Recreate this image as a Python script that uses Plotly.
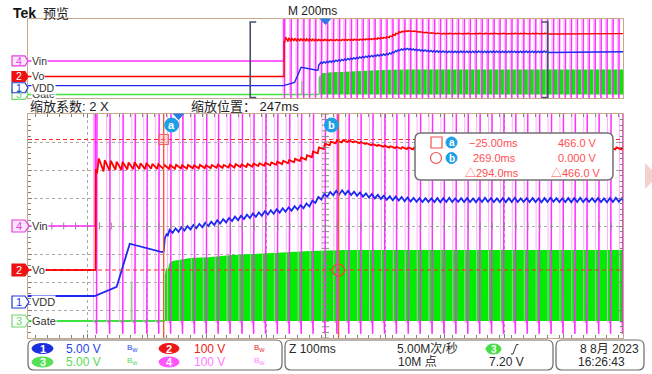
import plotly.graph_objects as go

W, H = 652, 374

# ---------------- acquisition settings ----------------
record_ms = [-1000.0, 1000.0]      # M 200ms/div over 10 divisions, trigger at 0 ms
record_ms_per_div = 200.0
zoom_factor = 2
zoom_pos_ms = 247.0
zoom_ms_per_div = 100.0
sample_rate = "5.00M次/秒"
record_points = "10M 点"
trigger_level = "7.20 V"
date_text = "8 8月 2023"
time_text = "16:26:43"

# ---------------- channel 2 : Vo (V) ----------------
vo_samples = [
    (-1000, 0), (-139.5, 0), (-139, 360), (-137, 345),
    (-134, 398), (-126, 352), (-124, 392), (-116, 356), (-114, 390), (-106, 358),
    (-104, 387), (-96, 357), (-94, 386), (-86, 359), (-84, 384), (-76, 360),
    (-74, 385), (-66, 361), (-64, 381), (-56, 360), (-54, 382), (-46, 362),
    (-44, 379), (-36, 361), (-34, 378), (-26, 362), (-24, 376), (-16, 361),
    (-14, 375), (-6, 362), (-4, 376), (4, 363), (6, 374), (14, 362),
    (16, 375), (24, 363), (26, 374), (34, 363), (36, 375), (44, 364),
    (46, 374), (54, 364), (56, 375), (64, 365), (66, 376), (74, 365),
    (76, 375), (84, 366), (86, 377), (94, 366), (96, 378), (104, 368),
    (106, 377), (114, 368), (116, 379), (124, 369), (126, 380), (134, 371),
    (136, 381), (144, 372), (146, 383), (154, 374), (156, 384), (164, 376),
    (166, 387), (174, 378), (176, 390), (184, 381), (186, 393), (194, 385),
    (196, 397), (204, 389), (206, 402), (214, 394), (216, 410), (224, 403),
    (226, 423), (234, 417), (236, 438), (244, 432), (246, 451), (254, 445),
    (256, 458), (264, 452), (266, 462), (274, 456), (276, 463), (284, 457),
    (286, 462), (294, 456), (296, 460), (304, 453), (306, 457), (314, 450),
    (316, 453), (324, 446), (326, 450), (334, 443), (336, 447), (344, 440),
    (346, 444), (354, 437), (356, 442), (364, 435), (366, 440), (374, 433),
    (376, 439), (384, 432), (386, 438), (394, 431), (396, 437), (404, 431),
    (406, 438), (414, 430), (416, 437), (424, 431), (426, 436), (434, 430),
    (436, 437), (444, 431), (446, 438), (454, 431), (456, 437), (464, 430),
    (466, 437), (474, 431), (476, 438), (484, 431), (486, 437), (494, 430),
    (496, 436), (504, 430), (506, 437), (514, 431), (516, 438), (524, 431),
    (526, 437), (534, 430), (536, 437), (544, 431), (546, 436), (554, 430),
    (556, 437), (564, 431), (566, 438), (574, 431), (576, 437), (584, 430),
    (586, 437), (594, 431), (596, 438), (604, 431), (606, 437), (614, 430),
    (616, 436), (624, 430), (626, 437), (634, 431), (636, 438), (644, 431),
    (646, 437), (654, 430), (656, 437), (664, 431), (666, 438), (674, 431),
    (676, 437), (684, 430), (686, 436), (694, 430), (696, 437), (704, 431),
    (706, 438), (714, 431), (716, 437), (724, 430), (726, 437), (734, 431),
    (736, 438), (744, 431), (746, 437), (754, 430), (1000, 434),
]

# ---------------- channel 1 : VDD (V) ----------------
vdd_samples = [
    (-1000, 1.07), (-141, 1.07), (-104, 2.7), (-82, 10.4), (-28, 8.9), (-25, 9.0),
    (-23, 11.4), (-20, 12.1), (-18, 11.9), (-15, 12.9), (-10, 12.35), (-5, 13.15),
    (0, 12.55), (5, 13.35), (10, 12.75), (15, 13.55), (20, 12.95), (25, 13.75),
    (30, 13.15), (35, 13.95), (40, 13.35), (45, 14.15), (50, 13.55), (55, 14.35),
    (60, 13.75), (65, 14.6), (70, 14.0), (75, 14.8), (80, 14.2), (85, 15.0),
    (90, 14.45), (95, 15.25), (100, 14.6), (105, 15.4), (110, 14.8), (115, 15.6),
    (120, 15.0), (125, 15.8), (130, 15.2), (135, 16.0), (140, 15.4), (145, 16.2),
    (150, 15.6), (155, 16.4), (160, 15.75), (165, 16.55), (170, 15.95), (175, 16.75),
    (180, 16.1), (185, 16.9), (190, 16.3), (195, 17.1), (200, 16.5), (205, 17.3),
    (210, 16.75), (215, 17.6), (220, 17.05), (225, 18.1), (230, 17.7), (235, 18.75),
    (240, 18.3), (245, 19.3), (250, 18.8), (255, 19.65), (260, 19.05), (265, 19.85),
    (270, 19.2), (275, 19.95), (280, 19.2), (285, 19.85), (290, 19.1), (295, 19.7),
    (300, 18.95), (305, 19.55), (310, 18.8), (315, 19.4), (320, 18.65), (325, 19.3),
    (330, 18.5), (335, 19.15), (340, 18.4), (345, 19.0), (350, 18.25), (355, 18.9),
    (360, 18.15), (365, 18.85), (370, 18.1), (375, 18.75), (380, 18.0), (385, 18.65),
    (390, 17.95), (395, 18.6), (400, 17.9), (405, 18.55), (410, 17.85), (415, 18.55),
    (420, 17.9), (425, 18.5), (430, 17.85), (435, 18.55), (440, 17.8), (445, 18.55),
    (450, 17.85), (455, 18.6), (460, 17.85), (465, 18.5), (470, 17.9), (475, 18.55),
    (480, 17.85), (485, 18.55), (490, 17.85), (495, 18.5), (500, 17.8), (505, 18.55),
    (510, 17.85), (515, 18.6), (520, 17.9), (525, 18.55), (530, 17.85), (535, 18.5),
    (540, 17.85), (545, 18.55), (550, 17.8), (555, 18.55), (560, 17.85), (565, 18.6),
    (570, 17.85), (575, 18.5), (580, 17.9), (585, 18.55), (590, 17.85), (595, 18.55),
    (600, 17.85), (605, 18.5), (610, 17.8), (615, 18.55), (620, 17.85), (625, 18.6),
    (630, 17.9), (635, 18.55), (640, 17.85), (645, 18.5), (650, 17.85), (655, 18.55),
    (660, 17.8), (665, 18.55), (670, 17.85), (675, 18.6), (680, 17.85), (685, 18.5),
    (690, 17.9), (695, 18.55), (700, 17.85), (705, 18.55), (710, 17.85), (715, 18.5),
    (720, 17.8), (725, 18.55), (730, 17.85), (735, 18.6), (740, 17.9), (745, 18.55),
    (750, 17.85), (1000, 18.2),
]

# ---------------- channel 3 : Gate (V) ----------------
gate_env_ms = [-23, -21, -18, -15, -10, 0, 20, 50, 90, 150, 220, 280, 1000]
gate_env_v = [8.2, 9.5, 9.1, 10.4, 10.7, 10.9, 11.25, 11.4, 11.8, 12.1, 12.5, 12.7, 12.7]
gate_spike_ms = [-79.0]
gate_spike_v = [7.0]

# ---------------- channel 4 : Vin (V) ----------------
vin_on_ms = -140.0
vin_dip_ms = [-137, -115, -93, -72.5, -52.5, -32.5, -12.5, 7.5, 27.5, 47.5, 67.5, 87.5,
              107.5, 127, 147, 167, 187, 207, 227, 247, 267, 287, 307, 327, 347, 367,
              387, 407, 427, 447, 467, 487, 507, 527, 547, 567, 587, 607, 627, 647, 667,
              687, 707, 727, 747, 767, 787, 807, 827, 847, 867, 887, 907, 927, 947, 967, 987]
vin_high_v = 480.0
vin_low_v = -343.0
vin_spike_v = -385.0
vin_dip_len_ms = 6.0

# ---------------- cursors ----------------
cursor_ms = [-25.0, 269.0]
cursor_v = [466.0, 0.0]

# ---------------- channel display setup (V/div, offset in div) ----------------
VIN = dict(scale=100.0, off=0.0)
VO = dict(scale=100.0, off=-1.571)
VDD = dict(scale=5.0, off=-2.714)
GATE = dict(scale=5.0, off=-3.393)

C_VIN, C_VIN_L = "#ff10ff", "#ff9cff"
C_VO = "#ff0000"
C_VDD = "#1e28f0"
C_GATE = "#00ec00"
BORDER = "#c8a88a"
FONT = "Liberation Sans, Noto Sans CJK SC, DejaVu Sans"

# panel geometry in pixels
OV = dict(x0=28, x1=623, y0=19, y1=98)
MN = dict(x0=28, x1=623, y0=114, y1=338)
ov_yr = [-3.75, 4.25]
mn_yr = [-4.0, 4.0]
mn_xr = [zoom_pos_ms - 5 * zoom_ms_per_div, zoom_pos_ms + 5 * zoom_ms_per_div]


def fx(x):
    return x / W


def fy(y):
    return 1 - y / H


def mx(t):
    return MN["x0"] + (t - mn_xr[0]) / (mn_xr[1] - mn_xr[0]) * (MN["x1"] - MN["x0"])


def my(d):
    return MN["y0"] + (mn_yr[1] - d) / (mn_yr[1] - mn_yr[0]) * (MN["y1"] - MN["y0"])


def ox(t):
    return OV["x0"] + (t - record_ms[0]) / (record_ms[1] - record_ms[0]) * (OV["x1"] - OV["x0"])


def oy(d):
    return OV["y0"] + (ov_yr[1] - d) / (ov_yr[1] - ov_yr[0]) * (OV["y1"] - OV["y0"])


def to_div(vals, ch):
    return [None if v is None else ch["off"] + v / ch["scale"] for v in vals]


vo_ms = [p[0] for p in vo_samples]
vo_v = [p[1] for p in vo_samples]
vdd_ms = [p[0] for p in vdd_samples]
vdd_v = [p[1] for p in vdd_samples]

# Vin: flat until switch-on, then mains-rate dips (light falling edge, bright rising edge)
vin_x = [record_ms[0], vin_on_ms, vin_on_ms]
vin_y = [0.0, 0.0, vin_high_v]
vin_dx = [record_ms[0], vin_on_ms, vin_on_ms, None]
vin_dy = [0.0, 0.0, vin_high_v, None]
for d in vin_dip_ms:
    f = d - vin_dip_len_ms
    vin_x += [f, f, d - 1.2, d - 0.8, d]
    vin_y += [vin_high_v, vin_low_v, vin_low_v, vin_spike_v, vin_high_v]
    vin_dx += [f + 2.5, d - 1.2, d - 0.8, d, None]
    vin_dy += [vin_low_v, vin_low_v, vin_spike_v, vin_high_v, None]
vin_x.append(record_ms[1])
vin_y.append(vin_high_v)

gate_px = gate_env_ms + gate_env_ms[::-1]
gate_py = gate_env_v + [0.0] * len(gate_env_ms)
gate_sx, gate_sy = [], []
for t, v in zip(gate_spike_ms, gate_spike_v):
    gate_sx += [t, t, None]
    gate_sy += [0.0, v, None]

fig = go.Figure()

for xa, ya, lw in (("x", "y", 1.4), ("x2", "y2", 1.8)):
    fig.add_trace(go.Scatter(x=gate_px, y=to_div(gate_py, GATE), xaxis=xa, yaxis=ya,
                             mode="lines", fill="toself", fillcolor=C_GATE,
                             line=dict(width=0, color=C_GATE)))
    fig.add_trace(go.Scatter(x=[record_ms[0], gate_env_ms[0]], y=to_div([0.0, 0.0], GATE),
                             xaxis=xa, yaxis=ya, mode="lines",
                             line=dict(color="#3ee23e", width=lw)))
    fig.add_trace(go.Scatter(x=gate_sx, y=to_div(gate_sy, GATE), xaxis=xa, yaxis=ya,
                             mode="lines", line=dict(color="#3ee23e", width=1.5)))
    fig.add_trace(go.Scatter(x=vin_x, y=to_div(vin_y, VIN), xaxis=xa, yaxis=ya,
                             mode="lines", opacity=0.8,
                             line=dict(color=C_VIN_L, width=1.0)))
    fig.add_trace(go.Scatter(x=vin_dx, y=to_div(vin_dy, VIN), xaxis=xa, yaxis=ya,
                             mode="lines", opacity=0.8,
                             line=dict(color=C_VIN, width=1.5)))
    fig.add_trace(go.Scatter(x=vdd_ms, y=to_div(vdd_v, VDD), xaxis=xa, yaxis=ya,
                             mode="lines", line=dict(color=C_VDD, width=lw)))
    fig.add_trace(go.Scatter(x=vo_ms, y=to_div(vo_v, VO), xaxis=xa, yaxis=ya,
                             mode="lines", line=dict(color=C_VO, width=lw)))

# centre cross-hair ticks of the zoom graticule
n_x = int(round((mn_xr[1] - mn_xr[0]) / (zoom_ms_per_div / 5)))
fig.add_trace(go.Scatter(x=[mn_xr[0] + i * zoom_ms_per_div / 5 for i in range(n_x + 1)],
                         y=[0.0] * (n_x + 1), xaxis="x2", yaxis="y2", mode="markers",
                         marker=dict(symbol="line-ns", size=5,
                                     line=dict(color="#8a8a8a", width=1))))
fig.add_trace(go.Scatter(x=[zoom_pos_ms] * 41, y=[mn_yr[0] + j * 0.2 for j in range(41)],
                         xaxis="x2", yaxis="y2", mode="markers",
                         marker=dict(symbol="line-ew", size=5,
                                     line=dict(color="#8a8a8a", width=1))))

shapes, annos = [], []


def text(x, y, s, size=12, color="#222222", anchor="left", bg=None, family=FONT):
    a = dict(x=fx(x), y=fy(y), xref="paper", yref="paper", text=s, showarrow=False,
             xanchor=anchor, yanchor="middle", font=dict(family=family, size=size, color=color),
             borderpad=0)
    if bg:
        a["bgcolor"] = bg
    annos.append(a)


def path(pts, close=True):
    s = "M " + " L ".join(f"{fx(x):.5f},{fy(y):.5f}" for x, y in pts)
    return s + (" Z" if close else "")


def rrect(x0, y0, x1, y1, r, edge="#6a6a6a", fill="white", width=1.2):
    p = (f"M {fx(x0 + r)},{fy(y0)} L {fx(x1 - r)},{fy(y0)} Q {fx(x1)},{fy(y0)} {fx(x1)},{fy(y0 + r)} "
         f"L {fx(x1)},{fy(y1 - r)} Q {fx(x1)},{fy(y1)} {fx(x1 - r)},{fy(y1)} "
         f"L {fx(x0 + r)},{fy(y1)} Q {fx(x0)},{fy(y1)} {fx(x0)},{fy(y1 - r)} "
         f"L {fx(x0)},{fy(y0 + r)} Q {fx(x0)},{fy(y0)} {fx(x0 + r)},{fy(y0)} Z")
    shapes.append(dict(type="path", xref="paper", yref="paper", path=p,
                       fillcolor=fill, line=dict(color=edge, width=width)))


def oval(x0, y0, x1, y1, fill, edge=None, width=1.0):
    shapes.append(dict(type="circle", xref="paper", yref="paper", x0=fx(x0), x1=fx(x1),
                       y0=fy(y1), y1=fy(y0), fillcolor=fill,
                       line=dict(color=edge or fill, width=width)))


def ch_marker(yc, num, fill, edge, tcol, label, h=12, tip=29, lsize=11):
    shapes.append(dict(type="path", xref="paper", yref="paper",
                       path=path([(12, yc - h / 2), (25, yc - h / 2), (tip, yc),
                                  (25, yc + h / 2), (12, yc + h / 2)]),
                       fillcolor=fill, line=dict(color=edge, width=1.2)))
    text(18.5, yc, num, size=lsize, color=tcol, anchor="center")
    text(30.5, yc, label, size=lsize, color="#333333", bg="white")


# channel markers - overview and zoom window
for ycalc, h, tip, ls in ((oy, 10, 28, 10.5), (my, 12, 29, 11)):
    ch_marker(ycalc(VIN["off"]), "4", "#fde4fd", "#e040e0", "#e040e0", "Vin", h, tip, ls)
    ch_marker(ycalc(VO["off"]), "2", "#ee1111", "#ee1111", "white", "Vo", h, tip, ls)
    ch_marker(ycalc(GATE["off"]), "3", "white", "#6ad86a", "#6ad86a", "Gate", h, tip, ls)
    ch_marker(ycalc(VDD["off"]), "1", "white", "#1a3ad8", "#1a3ad8", "VDD", h, tip, ls)

# zoom bracket in the overview
bl, br = ox(mn_xr[0]), ox(mn_xr[1])
shapes.append(dict(type="path", xref="paper", yref="paper",
                   path=path([(bl + 6, 22), (bl, 22), (bl, 97.5), (bl + 6, 97.5)], close=False),
                   line=dict(color="#46506a", width=1.6)))
shapes.append(dict(type="path", xref="paper", yref="paper",
                   path=path([(br - 6, 22), (br, 22), (br, 97.5), (br - 6, 97.5)], close=False),
                   line=dict(color="#46506a", width=1.6)))

# trigger position markers
for x, y in ((ox(0), OV["y0"]), (mx(0), MN["y0"])):
    shapes.append(dict(type="path", xref="paper", yref="paper",
                       path=path([(x - 5, y), (x + 5, y), (x, y + 5.5)]),
                       fillcolor="#2a7de0", line=dict(color="#2a7de0", width=1)))

# cursors
for t in cursor_ms:
    shapes.append(dict(type="line", xref="x2", yref="paper", x0=t, x1=t,
                       y0=fy(MN["y1"]), y1=fy(MN["y0"]),
                       line=dict(color="#f05a3c", width=1.4)))
for v in cursor_v:
    yv = VO["off"] + v / VO["scale"]
    shapes.append(dict(type="line", xref="paper", yref="y2", x0=fx(MN["x0"]), x1=fx(MN["x1"]),
                       y0=yv, y1=yv, line=dict(color="#ff2a2a", width=1.1, dash="4px,3px")))
ax_, ay_ = mx(cursor_ms[0]), my(VO["off"] + cursor_v[0] / VO["scale"])
shapes.append(dict(type="rect", xref="paper", yref="paper", x0=fx(ax_ - 5), x1=fx(ax_ + 5),
                   y0=fy(ay_ + 5), y1=fy(ay_ - 5), fillcolor="rgba(255,140,140,0.35)",
                   line=dict(color="#f06060", width=1)))
bx_, by_ = mx(cursor_ms[1]), my(VO["off"] + cursor_v[1] / VO["scale"])
oval(bx_ - 6, by_ - 6, bx_ + 6, by_ + 6, "rgba(0,0,0,0)", "#f04040", 1.2)

# cursor tags
for t, dx, s in ((cursor_ms[0], 8, "a"), (cursor_ms[1], -7, "b")):
    cx = mx(t) + dx
    oval(cx - 7, 118, cx + 7, 132, "#1d9fe6")
    text(cx, 124.5, f"<b>{s}</b>", size=11, color="white", anchor="center")


# cursor readout
def fmt4(v):
    a = abs(v)
    ndig = len(str(int(a)))
    dec = max(0, 4 - ndig)
    s = f"{a:.{dec}f}"
    return ("−" if v < 0 else "") + s


RC = "#ff5050"
rrect(415, 133, 613, 180, 6, edge="#707070", width=1.5)
shapes.append(dict(type="rect", xref="paper", yref="paper", x0=fx(431), x1=fx(442),
                   y0=fy(148), y1=fy(137), line=dict(color="#f05050", width=1.2)))
oval(430.5, 152.5, 441.5, 163.5, "white", "#f05050", 1.2)
for yc, s in ((142.5, "a"), (158, "b")):
    oval(446, yc - 5.5, 457, yc + 5.5, "#1d9fe6")
    text(451.5, yc, f"<b>{s}</b>", size=10, color="white", anchor="center")
dt = cursor_ms[1] - cursor_ms[0]
dv = cursor_v[0] - cursor_v[1]
text(519, 142.5, fmt4(cursor_ms[0]) + "ms", 11, RC, "right")
text(517, 158, fmt4(cursor_ms[1]) + "ms", 11, RC, "right")
text(520, 173, "△" + fmt4(dt) + "ms", 11, RC, "right")
text(598, 142.5, fmt4(cursor_v[0]) + " V", 11, RC, "right")
text(598, 158, fmt4(cursor_v[1]) + " V", 11, RC, "right")
text(602, 173, "△" + fmt4(dv) + " V", 11, RC, "right")

# side tab
shapes.append(dict(type="path", xref="paper", yref="paper",
                   path=path([(645, 163), (658, 176), (645, 189)]),
                   fillcolor="#f6cfcf", line=dict(color="#f6cfcf", width=0)))

# header texts
text(12, 13, "<b>Tek</b>", 14, "#111111")
text(42, 13, "预览", 13, "#222222")
text(287, 11, f"M {record_ms_per_div:.0f}ms", 12, "#222222")
text(29, 106, f"缩放系数: {zoom_factor} X", 13, "#222222")
text(190, 106, f"缩放位置： {zoom_pos_ms:.0f}ms", 13, "#222222")

# bottom status bar
rrect(28, 340, 282, 370, 6)
rrect(285, 340, 553, 370, 6)
rrect(556, 340, 644, 370, 6)
bar = [
    (348.5, "1", "#1a2ee0", "#2a44e8", "5.00 V", "2", "#ee1515", "#ee2020", "100 V"),
    (362, "3", "#55e055", "#5ad85a", "5.00 V", "4", "#ff55ff", "#ff7cff", "100 V"),
]
for yc, n1, c1, t1, s1, n2, c2, t2, s2 in bar:
    oval(32, yc - 5, 53, yc + 5, c1)
    text(42.5, yc, f"<b>{n1}</b>", 11, "white", "center")
    text(65, yc, s1, 12, t1)
    text(126, yc - 1, "B<sub>W</sub>", 8, t1)
    oval(159, yc - 5, 179, yc + 5, c2)
    text(169, yc, f"<b>{n2}</b>", 11, "white", "center")
    text(193, yc, s2, 12, t2)
    text(253, yc - 1, "B<sub>W</sub>", 8, t2)

text(288, 348.5, f"Z {zoom_ms_per_div:.0f}ms", 12, "#2a2a2a")
text(396, 348.5, sample_rate, 12, "#2a2a2a")
text(397, 362, record_points, 12, "#2a2a2a")
oval(486, 344, 501, 354, "#44dd44")
text(493.5, 349, "<b>3</b>", 10, "white", "center")
shapes.append(dict(type="path", xref="paper", yref="paper",
                   path=path([(511, 354), (513, 354), (516.5, 344.5), (518.5, 344.5)], close=False),
                   line=dict(color="#333333", width=1)))
text(488, 362, trigger_level, 12, "#2a2a2a")
text(640, 348.5, date_text, 12, "#2a2a2a", "right")
text(577, 362, time_text, 12, "#2a2a2a")

hidden = dict(showticklabels=False, zeroline=False, fixedrange=True)
fig.update_layout(
    width=W, height=H, margin=dict(l=0, r=0, t=0, b=0),
    paper_bgcolor="white", plot_bgcolor="white", showlegend=False, hovermode=False,
    xaxis=dict(domain=[fx(OV["x0"]), fx(OV["x1"])], range=record_ms, anchor="y",
               showgrid=False, showline=True, mirror=True, linecolor=BORDER, linewidth=1.2,
               ticks="", **hidden),
    yaxis=dict(domain=[fy(OV["y1"]), fy(OV["y0"])], range=ov_yr, anchor="x",
               showgrid=False, showline=True, mirror=True, linecolor=BORDER, linewidth=1.2,
               ticks="", **hidden),
    xaxis2=dict(domain=[fx(MN["x0"]), fx(MN["x1"])], range=mn_xr, anchor="y2",
                showgrid=True, gridcolor="#a8a8a8", griddash="dot", gridwidth=1,
                tick0=mn_xr[0], dtick=zoom_ms_per_div, ticks="inside", ticklen=4,
                tickcolor="#808080",
                minor=dict(dtick=zoom_ms_per_div / 5, ticks="inside", ticklen=2.5,
                           tickcolor="#808080", showgrid=False),
                showline=True, mirror="allticks", linecolor=BORDER, linewidth=1.2, **hidden),
    yaxis2=dict(domain=[fy(MN["y1"]), fy(MN["y0"])], range=mn_yr, anchor="x2",
                showgrid=True, gridcolor="#a8a8a8", griddash="dot", gridwidth=1,
                tick0=mn_yr[0], dtick=1, ticks="inside", ticklen=4, tickcolor="#808080",
                minor=dict(dtick=0.2, ticks="inside", ticklen=2.5, tickcolor="#808080",
                           showgrid=False),
                showline=True, mirror="allticks", linecolor=BORDER, linewidth=1.2, **hidden),
    shapes=shapes, annotations=annos,
)

fig.write_html("out.html", config={"displayModeBar": False})
